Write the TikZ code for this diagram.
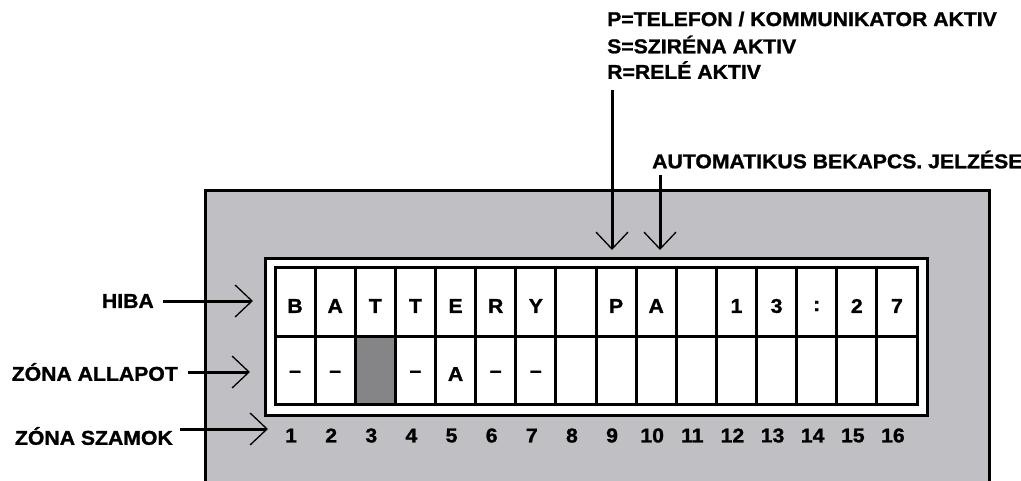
\documentclass[tikz,border=0pt]{standalone}
\usepackage{fontspec}
\setmainfont{Liberation Sans}[FakeStretch=1.06, BoldFeatures={FakeBold=1.2}]
\usetikzlibrary{arrows.meta}
\definecolor{panelgray}{RGB}{192,192,196}
\definecolor{cellgray}{RGB}{133,133,135}
\tikzset{
  lbl/.style={font=\fontsize{20}{20}\selectfont\bfseries, inner sep=0pt},
  cell/.style={draw, line width=3pt, minimum width=40.125pt, minimum height=68.5pt, inner sep=0pt, fill=white},
  barb/.style={line width=3pt, -{Straight Barb[length=17pt, width=32pt, line width=1.3pt]}},
}
\begin{document}
\begin{tikzpicture}[x=1pt,y=-1pt]
\useasboundingbox (0,0) rectangle (1021,480);
\clip (0,0) rectangle (1021,480);
\fill[white] (0,0) rectangle (1021,480);
% panel
\draw[line width=3pt, fill=panelgray] (205,500) -- (205,190) -- (989,190) -- (989,500);
\node[draw, line width=3pt, fill=white, minimum width=662pt, minimum height=157pt, inner sep=0pt] (display) at (596,336.5) {};
% cells
\foreach \i/\t in {1/B,2/A,3/T,4/T,5/E,6/R,7/Y,8/{},9/P,10/A,11/{},12/1,13/3,14/:,15/2,16/7} {
  \node[cell] (a\i) at ({275+40.125*(\i-0.5)},302) {};
  \node[lbl] (ta\i) at ([yshift=-4pt]a\i.center) {\t};
}
\foreach \i/\t in {1/–,2/–,3/{},4/–,5/A,6/–,7/–,8/{},9/{},10/{},11/{},12/{},13/{},14/{},15/{},16/{}} {
  \node[cell] (b\i) at ({275+40.125*(\i-0.5)},370.5) {};
  \node[lbl] (tb\i) at ([yshift=-3.5pt]b\i.center) {\t};
}
\node[cell, fill=cellgray] (b3g) at (b3) {};
% numbers
\foreach \i in {1,...,16} {
  \node[lbl] (n\i) at ({275+40.125*(\i-0.5)-4},435.5) {\i};
}
% left labels
\node[lbl, anchor=east] (hiba) at (154,301) {HIBA};
\node[lbl, anchor=east] (zall) at (178,372) {ZÓNA ALLAPOT};
\node[lbl, anchor=east] (zsz) at (173,436) {ZÓNA SZAMOK};
\coordinate (hT) at (253,301);
\coordinate (aT) at (250,372);
\coordinate (sS) at (180,429);
\coordinate (sT) at (268,429);
\draw[barb] ([xshift=9pt]hiba.east) -- (hT);
\draw[barb] ([xshift=10pt]zall.east) -- (aT);
\draw[barb] (sS) -- (sT);
% top labels
\node[lbl, anchor=west] (l1) at (607,19) {P=TELEFON / KOMMUNIKATOR AKTIV};
\node[lbl, anchor=west] (l2) at (607,44.5) {S=SZIRÉNA AKTIV};
\node[lbl, anchor=west] (l3) at (607,70) {R=RELÉ AKTIV};
\node[lbl, anchor=west] (auto) at (652,159.5) {AUTOMATIKUS BEKAPCS. JELZÉSE};
\coordinate (pS) at (612,90);
\coordinate (pT) at (612,250);
\coordinate (qS) at (660,175);
\coordinate (qT) at (660,250);
\draw[barb] (pS) -- (pT);
\draw[barb] (qS) -- (qT);
\end{tikzpicture}
\end{document}
